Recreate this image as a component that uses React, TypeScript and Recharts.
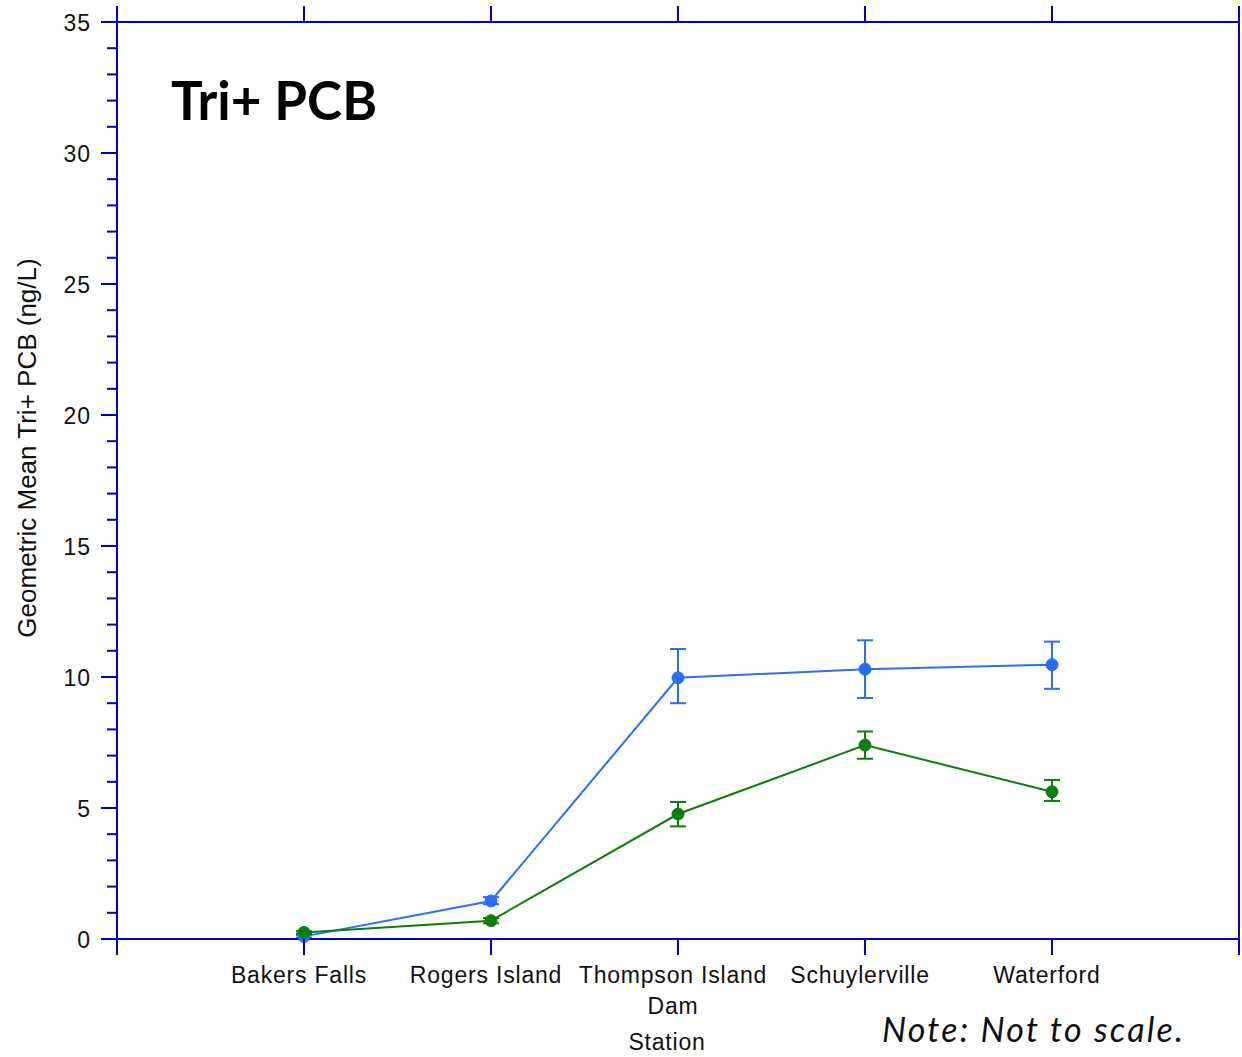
import React from 'react';
import { LineChart, Line, XAxis, YAxis, ErrorBar } from 'recharts';

const stations = ['Bakers Falls', 'Rogers Island', 'Thompson Island\nDam', 'Schuylerville', 'Waterford'];

// upper series (blue)
const blueMean = [0.1, 1.45, 9.97, 10.3, 10.47];
const blueLow = [0.05, 1.33, 9.0, 9.2, 9.55];
const blueHigh = [0.15, 1.6, 11.07, 11.4, 11.35];

// lower series (green)
const greenMean = [0.25, 0.7, 4.77, 7.4, 5.62];
const greenLow = [0.2, 0.6, 4.3, 6.88, 5.27];
const greenHigh = [0.3, 0.8, 5.23, 7.92, 6.07];

const yTicks = Array.from({ length: 36 }, (_, i) => i);
const xTicks = [0, 1, 2, 3, 4, 5, 6];

const AXIS = '#0000CC';
const BLUE = '#2A6EFF';
const GREEN = '#0A800A';
const FONT = '"Liberation Sans", Arial, sans-serif';

const data = stations.map((name, i) => ({
  x: i + 1,
  name,
  blue: blueMean[i],
  blueErr: [blueMean[i] - blueLow[i], blueHigh[i] - blueMean[i]],
  green: greenMean[i],
  greenErr: [greenMean[i] - greenLow[i], greenHigh[i] - greenMean[i]],
}));

const LeftTick = (props: any) => {
  const { x, y, payload } = props;
  const major = payload.value % 5 === 0;
  return (
    <g>
      <line x1={x - (major ? 16 : 10)} x2={x} y1={y} y2={y} stroke={AXIS} strokeWidth={2} />
      {major && (
        <text
          x={x - 26}
          y={y + 1}
          dy="0.35em"
          textAnchor="end"
          fontSize={23}
          letterSpacing={1}
          fill="#111"
          fontFamily={FONT}
        >
          {payload.value}
        </text>
      )}
    </g>
  );
};

const RightTick = (props: any) => {
  const { x, y, payload } = props;
  const major = payload.value % 5 === 0;
  return <line x1={x - 1} x2={x + (major ? 4 : 2)} y1={y} y2={y} stroke={AXIS} strokeWidth={2} />;
};

const BottomTick = (props: any) => {
  const { x, y, payload } = props;
  const label = payload.value >= 1 && payload.value <= 5 ? stations[payload.value - 1] : '';
  const lines = label ? label.split('\n') : [];
  return (
    <g>
      <line x1={x} x2={x} y1={y} y2={y + 16} stroke={AXIS} strokeWidth={2} />
      {lines.map((ln, k) => (
        <text
          key={k}
          x={x - 5}
          y={y + 44 + k * 31}
          textAnchor="middle"
          fontSize={23}
          letterSpacing={0.8}
          fill="#111"
          fontFamily={FONT}
        >
          {ln}
        </text>
      ))}
    </g>
  );
};

const TopTick = (props: any) => {
  const { x, y } = props;
  return <line x1={x} x2={x} y1={y} y2={y - 16} stroke={AXIS} strokeWidth={2} />;
};

export default function App() {
  return (
    <div style={{ position: 'absolute', left: 0, top: 0, width: 1242, height: 1057, background: '#fff' }}>
      <LineChart width={1242} height={1057} data={data} margin={{ top: 0, right: 0, bottom: 0, left: 0 }}>
        <XAxis
          xAxisId="bottom"
          type="number"
          dataKey="x"
          domain={[0, 6]}
          ticks={xTicks}
          height={118}
          tickSize={0}
          tickMargin={0}
          tick={<BottomTick />}
          axisLine={{ stroke: AXIS, strokeWidth: 2 }}
          tickLine={false}
          interval={0}
          label={{
            content: () => (
              <text x={667} y={1050} textAnchor="middle" fontSize={23} letterSpacing={0.8} fill="#111" fontFamily={FONT}>
                Station
              </text>
            ),
          }}
        />
        <XAxis
          xAxisId="top"
          orientation="top"
          type="number"
          dataKey="x"
          domain={[0, 6]}
          ticks={xTicks}
          height={22}
          tickSize={0}
          tickMargin={0}
          tick={<TopTick />}
          axisLine={{ stroke: AXIS, strokeWidth: 2 }}
          tickLine={false}
          interval={0}
        />
        <YAxis
          yAxisId="left"
          type="number"
          domain={[0, 35]}
          ticks={yTicks}
          width={117}
          tickSize={0}
          tickMargin={0}
          tick={<LeftTick />}
          axisLine={{ stroke: AXIS, strokeWidth: 2 }}
          tickLine={false}
          interval={0}
          label={{
            content: () => (
              <text
                x={36}
                y={448}
                transform="rotate(-90 36 448)"
                textAnchor="middle"
                fontSize={26}
                fill="#111"
                fontFamily={FONT}
              >
                Geometric Mean Tri+ PCB (ng/L)
              </text>
            ),
          }}
        />
        <YAxis
          yAxisId="right"
          orientation="right"
          type="number"
          domain={[0, 35]}
          ticks={yTicks}
          width={3}
          tickSize={0}
          tickMargin={0}
          tick={<RightTick />}
          axisLine={{ stroke: AXIS, strokeWidth: 2 }}
          tickLine={false}
          interval={0}
        />
        <Line
          xAxisId="bottom"
          yAxisId="left"
          type="linear"
          dataKey="blue"
          stroke={BLUE}
          strokeWidth={2}
          dot={{ r: 6, fill: BLUE, stroke: BLUE, strokeWidth: 1 }}
          isAnimationActive={false}
        >
          <ErrorBar dataKey="blueErr" width={8} stroke={BLUE} strokeWidth={2} direction="y" />
        </Line>
        <Line
          xAxisId="bottom"
          yAxisId="left"
          type="linear"
          dataKey="green"
          stroke={GREEN}
          strokeWidth={2}
          dot={{ r: 6, fill: GREEN, stroke: GREEN, strokeWidth: 1 }}
          isAnimationActive={false}
        >
          <ErrorBar dataKey="greenErr" width={8} stroke={GREEN} strokeWidth={2} direction="y" />
        </Line>
      </LineChart>
      <div
        style={{
          position: 'absolute',
          left: 171,
          top: 68,
          fontFamily: 'Lato, sans-serif',
          fontWeight: 700,
          fontSize: 53,
          lineHeight: '64px',
          color: '#000',
          whiteSpace: 'nowrap',
        }}
      >
        Tri+ PCB
      </div>
      <div
        style={{
          position: 'absolute',
          left: 882,
          top: 1009,
          fontFamily: 'Lato, sans-serif',
          fontStyle: 'italic',
          fontSize: 34,
          letterSpacing: 2.2,
          lineHeight: '40px',
          color: '#111',
          whiteSpace: 'nowrap',
        }}
      >
        Note: Not to scale.
      </div>
    </div>
  );
}
